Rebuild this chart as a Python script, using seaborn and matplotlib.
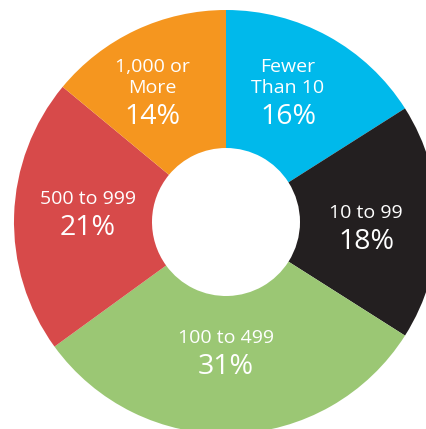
import seaborn as sns
import matplotlib.pyplot as plt

# share of organisations by size (clockwise from 12 o'clock)
categories = ['Fewer\nThan 10', '10 to 99', '100 to 499', '500 to 999', '1,000 or\nMore']
shares = [16, 18, 31, 21, 14]
colors = ['#00B9EB', '#231F20', '#9BC774', '#D74A4A', '#F5961F']

# label anchors in image pixels (x, y from top-left)
label_px = [(288, 100), (366, 225), (226, 350), (88, 211), (152, 100)]

W, H = 426, 429
CX, CY, R = 226, 222, 212      # centre and outer radius in pixels
HOLE = 74

sns.set_theme(style='white')
plt.rcParams['font.family'] = ['Open Sans', 'DejaVu Sans']

fig = plt.figure(figsize=(W / 100, H / 100), dpi=100)
ax = fig.add_axes([0, 0, 1, 1])

ax.pie(shares, colors=colors, startangle=90, counterclock=False, radius=1,
       wedgeprops=dict(width=1 - HOLE / R, linewidth=0))

ax.set_xlim(-CX / R, (W - CX) / R)
ax.set_ylim(-(H - CY) / R, CY / R)
ax.set_aspect('auto')
ax.axis('off')

def to_data(px, py):
    return (px - CX) / R, (CY - py) / R

for cat, val, (px, py) in zip(categories, shares, label_px):
    x, y = to_data(px, py)
    ax.text(x, y + 3 / R, cat, ha='center', va='bottom', color='white',
            fontsize=14, linespacing=1.25, fontweight='medium')
    ax.text(x, y - 3 / R, f'{val}%', ha='center', va='top', color='white',
            fontsize=20.5)

fig.savefig('out.png', dpi=100)
